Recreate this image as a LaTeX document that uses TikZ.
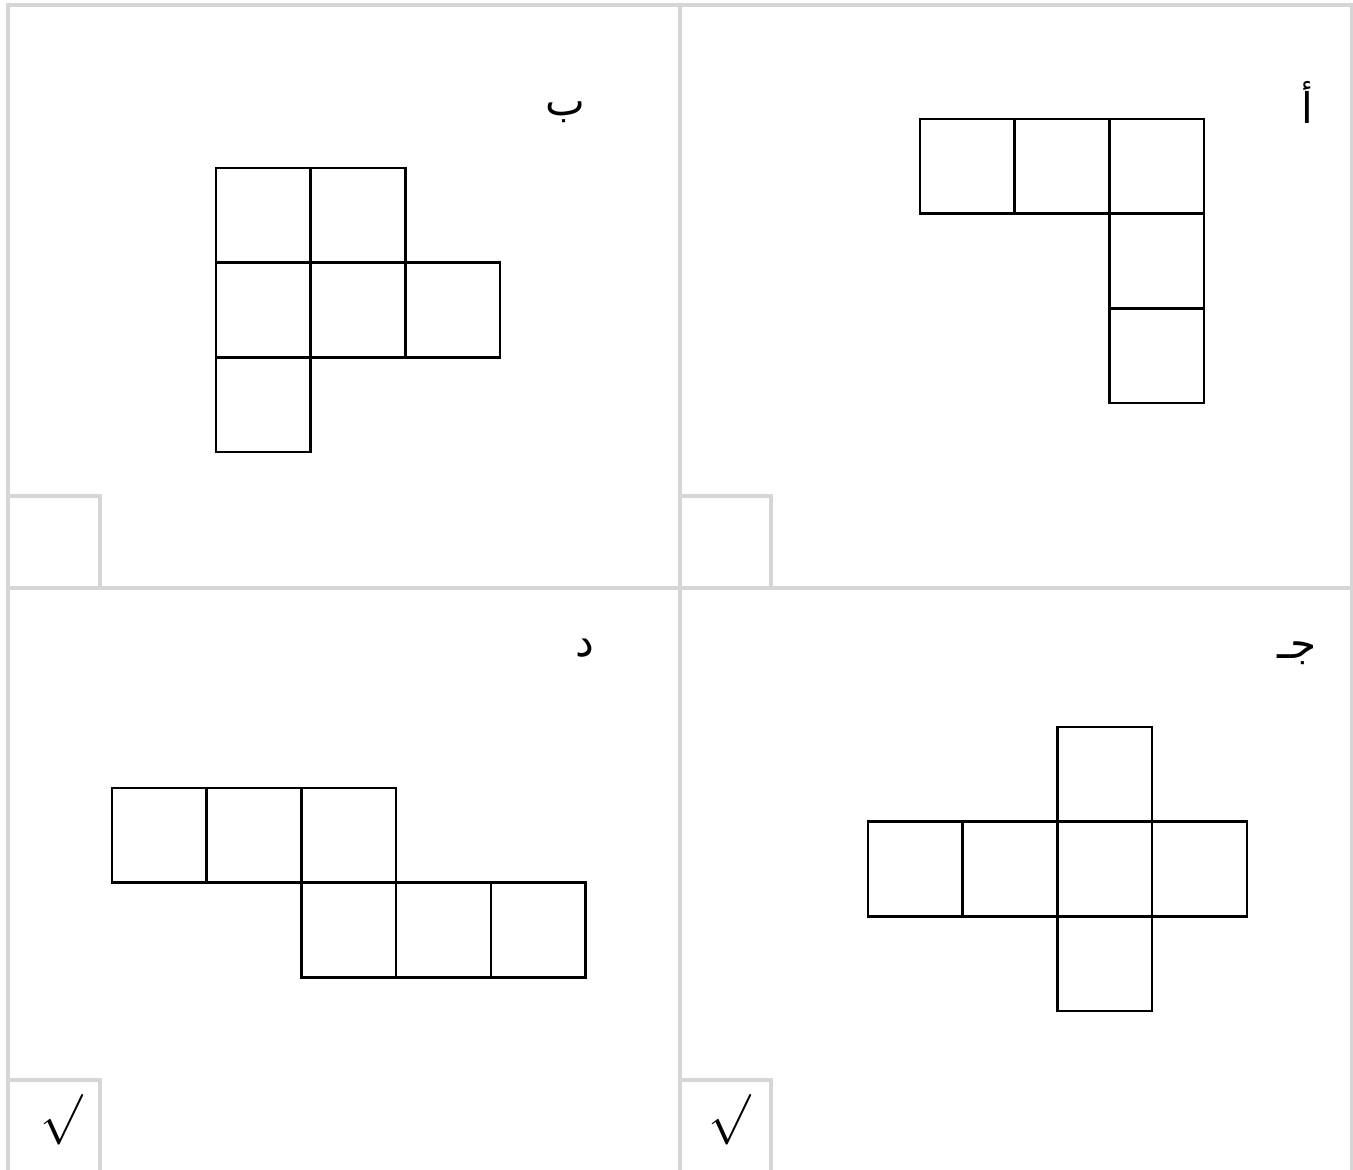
\documentclass[tikz,border=0pt]{standalone}
\usepackage{fontspec}
\newfontfamily\arabicfont[Script=Arabic]{DejaVu Sans}
\TeXXeTstate=1

\begin{document}
\begin{tikzpicture}[x=.01cm,y=-.01cm,
  frame/.style={draw=black!16,line width=.9pt},
  face/.style={draw,line width=.7pt},
  letter/.style={font=\arabicfont\large,inner sep=0pt},
  tick/.style={font=\Large,inner sep=0pt}]
\useasboundingbox(0,0)rectangle(1353,1170);
% frame of the four cells
\draw[frame](8,1170)--(8,5)--(1352,5)--(1352,1170);\draw[frame](680,5)--(680,1170);\draw[frame](8,588)--(1352,588);
\draw[frame](8,496)--(100,496)--(100,588);\draw[frame](680,496)--(771,496)--(771,588);
\draw[frame](8,1080)--(100,1080)--(100,1170);\draw[frame](680,1080)--(771,1080)--(771,1170);
% nets
\def\s{94.7}
\foreach \i/\j in {0/0,1/0,2/0,2/1,2/2}\draw[face]({920+\s*\i},{119+\s*\j})rectangle++(\s,\s);
\foreach \i/\j in {0/0,1/0,0/1,1/1,2/1,0/2}\draw[face]({216+\s*\i},{168+\s*\j})rectangle++(\s,\s);
\foreach \i/\j in {2/0,0/1,1/1,2/1,3/1,2/2}\draw[face]({868+\s*\i},{727+\s*\j})rectangle++(\s,\s);
\foreach \i/\j in {0/0,1/0,2/0,2/1,3/1,4/1}\draw[face]({112+\s*\i},{788+\s*\j})rectangle++(\s,\s);
% labels
\node[letter](lblA)at(1307,102){\beginR أ\endR};\node[letter](lblB)at(565,112){\beginR ب\endR};
\node[letter](lblC)at(1297,653){\beginR جـ\endR};\node[letter](lblD)at(585,648){\beginR د\endR};
\node[tick](tickD)at(62,1120){$\surd$};\node[tick](tickC)at(730,1120){$\surd$};
\end{tikzpicture}
\end{document}
